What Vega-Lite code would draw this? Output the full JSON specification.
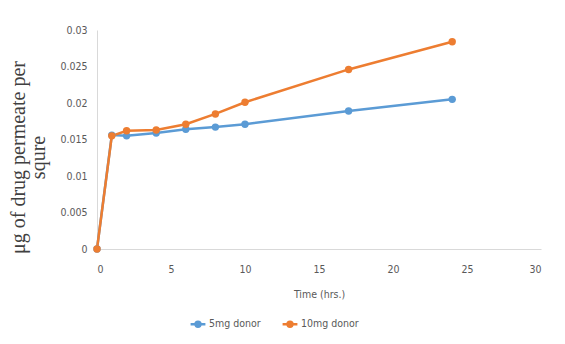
{
  "$schema": "https://vega.github.io/schema/vega-lite/v6.json",
  "width": 444,
  "height": 219,
  "autosize": {"type": "none"},
  "padding": {"left": 97, "top": 30, "right": 24, "bottom": 95},
  "background": "white",
  "config": {
    "view": {"stroke": null},
    "axis": {
      "labelFont": "DejaVu Sans Condensed, Liberation Sans, sans-serif",
      "labelFontSize": 10.5,
      "labelColor": "#595959",
      "grid": false,
      "ticks": false,
      "domainColor": "#d9d9d9",
      "domainWidth": 1
    },
    "legend": {
      "labelFont": "DejaVu Sans Condensed, Liberation Sans, sans-serif",
      "labelFontSize": 10.5,
      "labelColor": "#595959"
    }
  },
  "data": {
    "values": [
      {"donor": "5mg donor", "t": 0, "v": 0},
      {"donor": "5mg donor", "t": 1, "v": 0.0156},
      {"donor": "5mg donor", "t": 2, "v": 0.0155},
      {"donor": "5mg donor", "t": 4, "v": 0.0159},
      {"donor": "5mg donor", "t": 6, "v": 0.0164},
      {"donor": "5mg donor", "t": 8, "v": 0.0167},
      {"donor": "5mg donor", "t": 10, "v": 0.0171},
      {"donor": "5mg donor", "t": 17, "v": 0.0189},
      {"donor": "5mg donor", "t": 24, "v": 0.0205},
      {"donor": "10mg donor", "t": 0, "v": 0},
      {"donor": "10mg donor", "t": 1, "v": 0.0155},
      {"donor": "10mg donor", "t": 2, "v": 0.0162},
      {"donor": "10mg donor", "t": 4, "v": 0.0163},
      {"donor": "10mg donor", "t": 6, "v": 0.0171},
      {"donor": "10mg donor", "t": 8, "v": 0.0185},
      {"donor": "10mg donor", "t": 10, "v": 0.0201},
      {"donor": "10mg donor", "t": 17, "v": 0.0246},
      {"donor": "10mg donor", "t": 24, "v": 0.0284}
    ]
  },
  "encoding": {
    "x": {
      "field": "t", "type": "quantitative",
      "scale": {"domain": [0, 30], "nice": false},
      "axis": {
        "values": [0, 5, 10, 15, 20, 25, 30],
        "labelPadding": 15,
        "title": "Time (hrs.)",
        "titleFont": "DejaVu Sans Condensed, Liberation Sans, sans-serif",
        "titleFontSize": 10.5,
        "titleFontWeight": "normal",
        "titleColor": "#595959",
        "titlePadding": 15
      }
    },
    "y": {
      "field": "v", "type": "quantitative",
      "scale": {"domain": [0, 0.03], "nice": false},
      "axis": {
        "values": [0, 0.005, 0.01, 0.015, 0.02, 0.025, 0.03],
        "labelExpr": "datum.value == 0 ? '0' : format(datum.value, '.3~f')",
        "labelPadding": 10,
        "title": ["μg of drug permeate per", "squre"],
        "titleFont": "Liberation Serif",
        "titleFontSize": 20,
        "titleFontWeight": "normal",
        "titleColor": "#404040",
        "titleAngle": -90,
        "titleAlign": "center",
        "titleBaseline": "top",
        "titleLineHeight": 20,
        "titleX": -89,
        "titleY": 127
      }
    },
    "color": {
      "field": "donor", "type": "nominal",
      "sort": ["5mg donor", "10mg donor"],
      "scale": {"domain": ["5mg donor", "10mg donor"], "range": ["#5B9BD5", "#ED7D31"]},
      "legend": {
        "title": null,
        "orient": "none",
        "direction": "horizontal",
        "legendX": 92,
        "legendY": 285,
        "columns": 2,
        "columnPadding": 16,
        "symbolType": "M-1,0L1,0M-0.33,0A0.33,0.33,0,1,0,0.33,0A0.33,0.33,0,1,0,-0.33,0Z",
        "symbolSize": 220,
        "symbolStrokeWidth": 2.5,
        "labelOffset": 2,
        "encode": {
          "symbols": {"update": {"fill": {"scale": "color", "field": "value"}, "stroke": {"scale": "color", "field": "value"}}}
        }
      }
    }
  },
  "layer": [
    {"mark": {"type": "line", "strokeWidth": 2.5}},
    {"mark": {"type": "point", "filled": true, "opacity": 1, "size": 55}}
  ]
}
